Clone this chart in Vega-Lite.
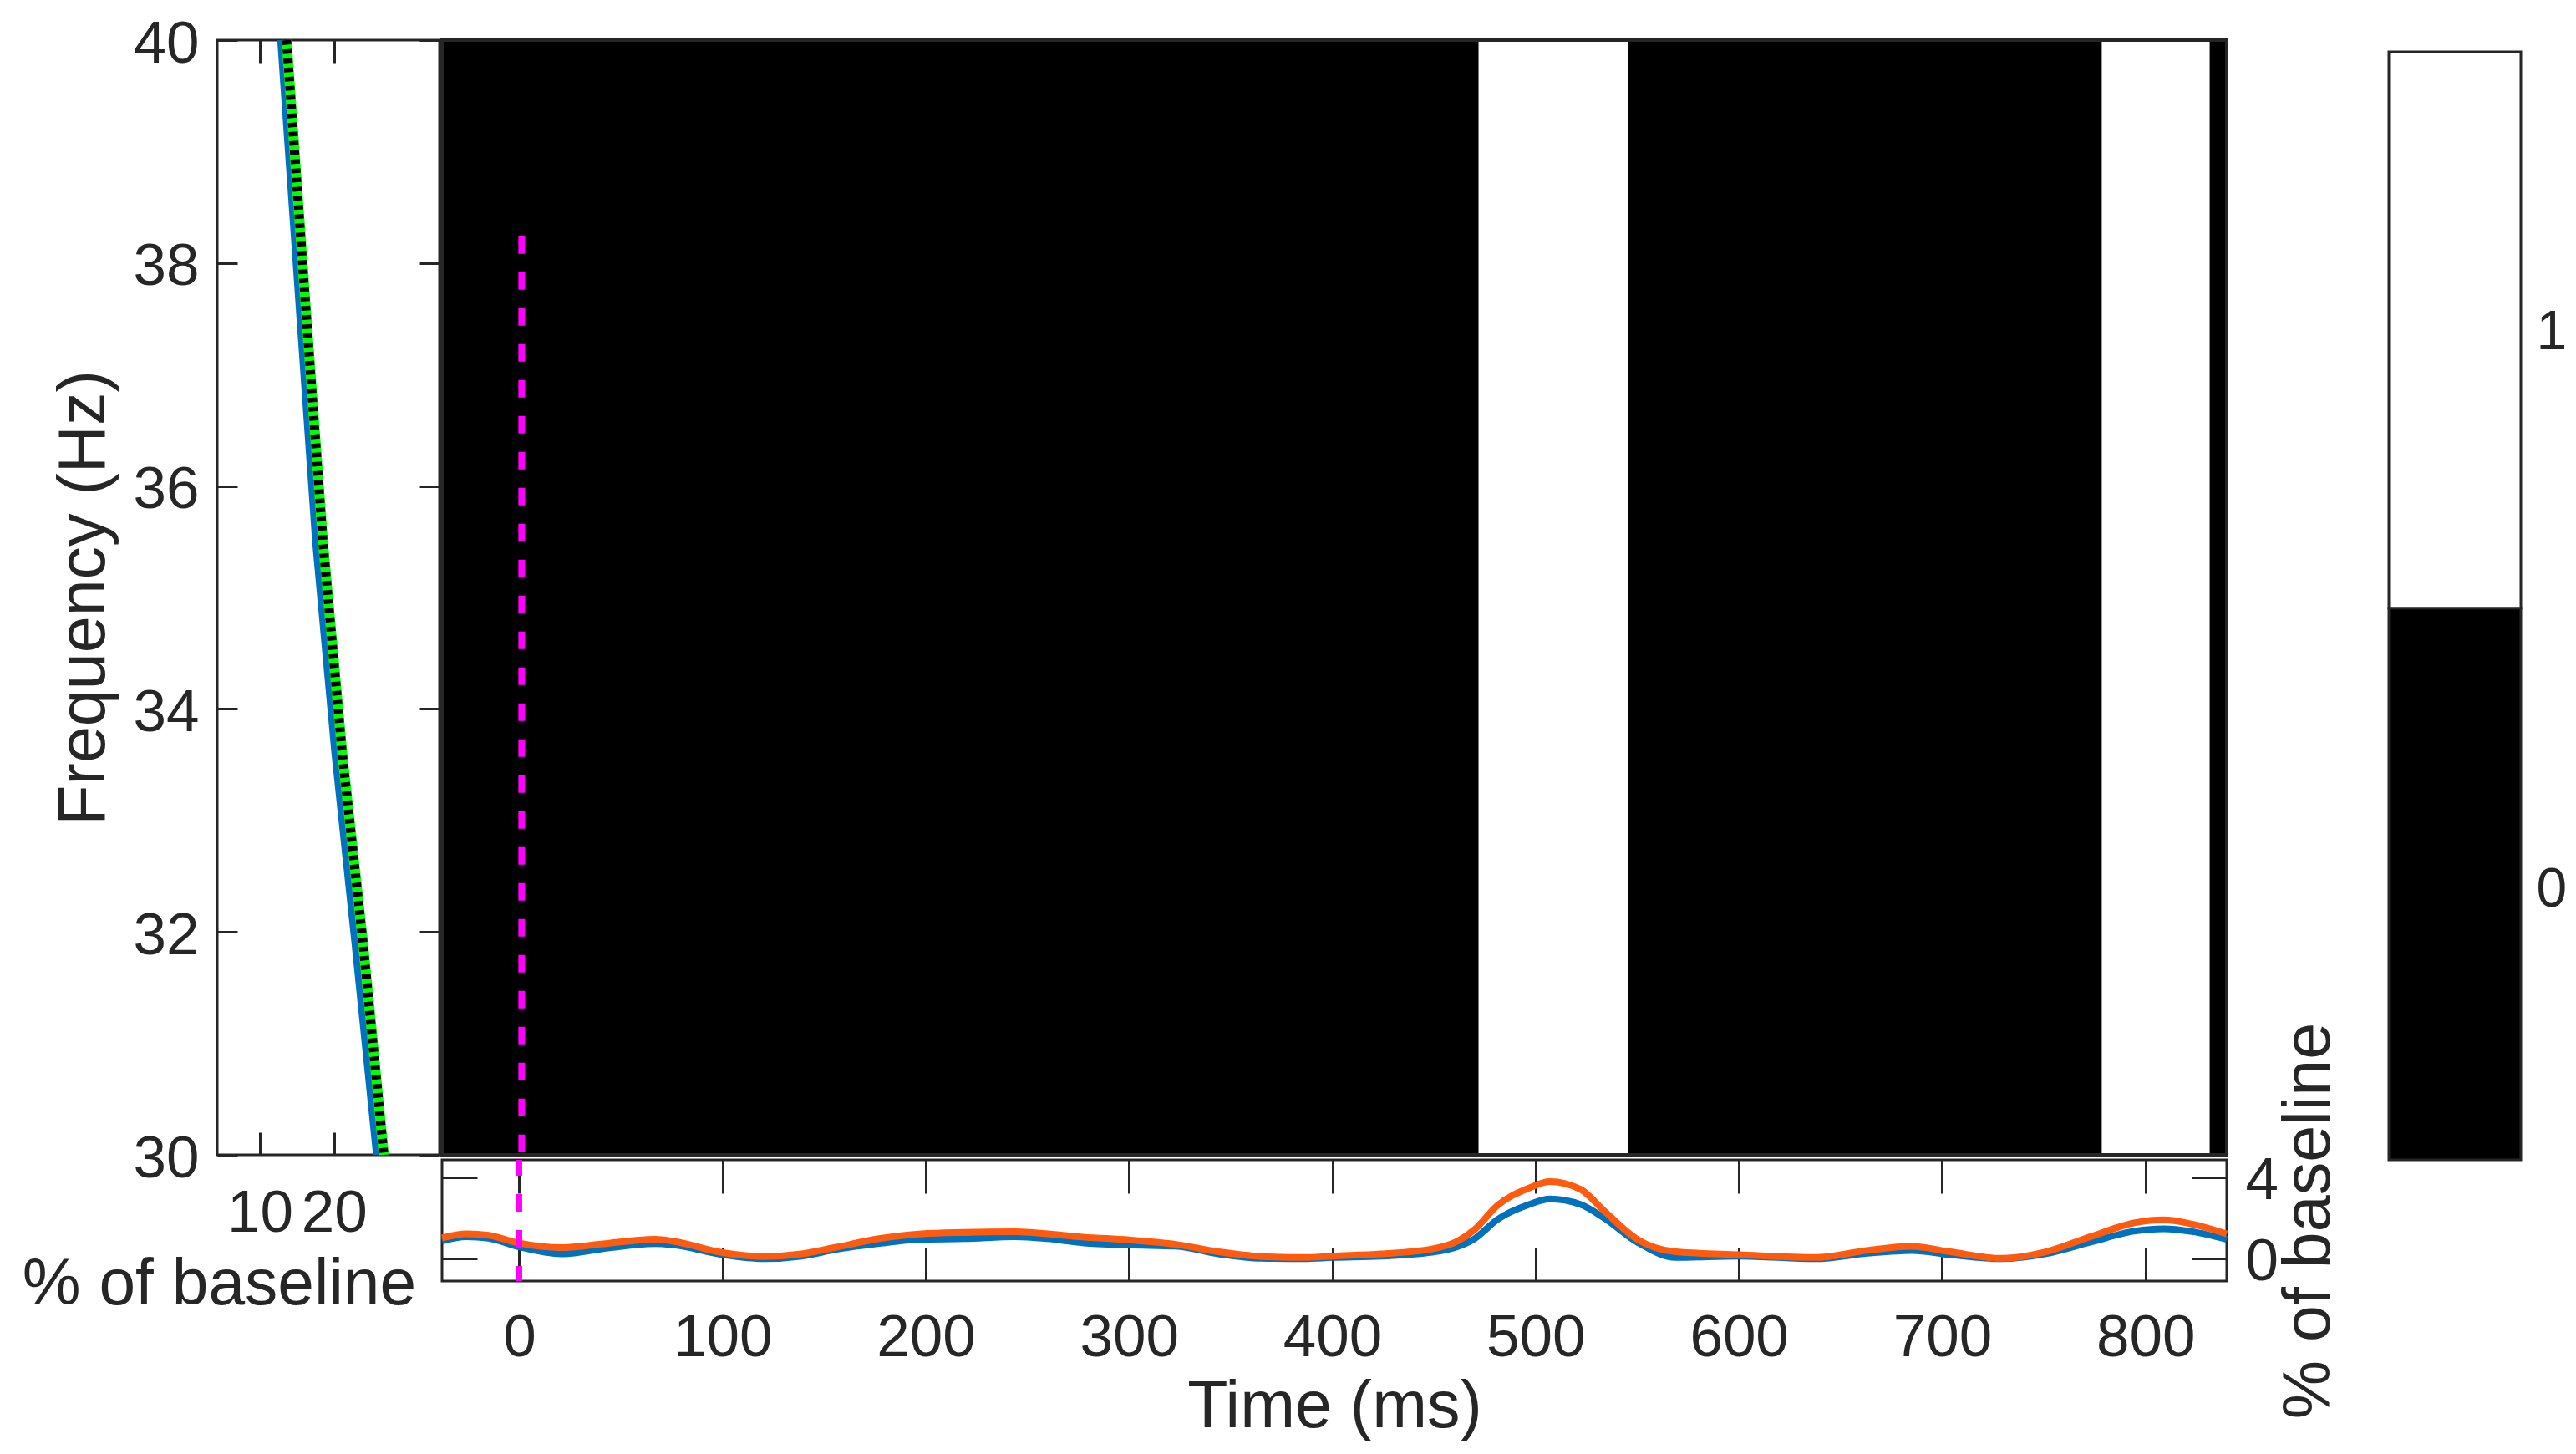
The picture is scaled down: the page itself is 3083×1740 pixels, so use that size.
{
  "$schema": "https://vega.github.io/schema/vega-lite/v6.json",
  "autosize": {"type": "none"},
  "padding": {"left": 260, "top": 48, "right": 2823, "bottom": 1692},
  "background": "white",
  "config": {
    "font": "Liberation Sans",
    "axis": {
      "grid": false, "domain": false,
      "labelFont": "Liberation Sans", "labelFontSize": 71, "labelColor": "#262626",
      "labelOverlap": false, "labelBound": false, "labelFlush": false,
      "titleFont": "Liberation Sans", "titleFontSize": 79, "titleFontWeight": "normal", "titleColor": "#262626",
      "tickColor": "#262626", "tickWidth": 3
    }
  },
  "datasets": {
    "tuning": [
      {"series": "blue", "freq": 40, "pct": 12.8},
      {"series": "blue", "freq": 37.5, "pct": 15.4},
      {"series": "blue", "freq": 35.5, "pct": 17.5},
      {"series": "blue", "freq": 33.6, "pct": 20.1},
      {"series": "blue", "freq": 31.9, "pct": 22.8},
      {"series": "blue", "freq": 30, "pct": 25.7},
      {"series": "green", "freq": 40, "pct": 13.6},
      {"series": "green", "freq": 37.4, "pct": 16.4},
      {"series": "green", "freq": 35.5, "pct": 18.5},
      {"series": "green", "freq": 33.6, "pct": 21.1},
      {"series": "green", "freq": 31.9, "pct": 23.9},
      {"series": "green", "freq": 30, "pct": 26.7}
    ],
    "trace": [
      {"time": -38, "orange": 1.02, "blue": 0.88},
      {"time": -26, "orange": 1.22, "blue": 1.08},
      {"time": -15, "orange": 1.15, "blue": 1.0},
      {"time": -1, "orange": 0.78, "blue": 0.6},
      {"time": 21, "orange": 0.54, "blue": 0.23},
      {"time": 45, "orange": 0.77, "blue": 0.54},
      {"time": 67, "orange": 0.95, "blue": 0.74},
      {"time": 76, "orange": 0.85, "blue": 0.67},
      {"time": 100, "orange": 0.29, "blue": 0.19},
      {"time": 120, "orange": 0.1, "blue": -0.01},
      {"time": 139, "orange": 0.23, "blue": 0.12},
      {"time": 156, "orange": 0.56, "blue": 0.45},
      {"time": 177, "orange": 0.98, "blue": 0.74},
      {"time": 198, "orange": 1.22, "blue": 0.95},
      {"time": 219, "orange": 1.29, "blue": 0.98},
      {"time": 244, "orange": 1.32, "blue": 1.08},
      {"time": 260, "orange": 1.22, "blue": 0.98},
      {"time": 277, "orange": 1.06, "blue": 0.78},
      {"time": 300, "orange": 0.92, "blue": 0.67},
      {"time": 323, "orange": 0.7, "blue": 0.61},
      {"time": 344, "orange": 0.33, "blue": 0.23},
      {"time": 365, "orange": 0.1, "blue": 0.01},
      {"time": 386, "orange": 0.05, "blue": -0.01},
      {"time": 400, "orange": 0.12, "blue": 0.05},
      {"time": 424, "orange": 0.23, "blue": 0.12},
      {"time": 449, "orange": 0.47, "blue": 0.31},
      {"time": 462, "orange": 0.88, "blue": 0.6},
      {"time": 470, "orange": 1.43, "blue": 0.98},
      {"time": 481, "orange": 2.6, "blue": 1.91},
      {"time": 497, "orange": 3.49, "blue": 2.67},
      {"time": 507, "orange": 3.8, "blue": 2.94},
      {"time": 522, "orange": 3.42, "blue": 2.67},
      {"time": 534, "orange": 2.32, "blue": 1.98},
      {"time": 550, "orange": 0.95, "blue": 0.81},
      {"time": 569, "orange": 0.33, "blue": 0.05},
      {"time": 600, "orange": 0.19, "blue": 0.12},
      {"time": 638, "orange": 0.05, "blue": -0.01},
      {"time": 663, "orange": 0.4, "blue": 0.26},
      {"time": 685, "orange": 0.6, "blue": 0.4},
      {"time": 704, "orange": 0.33, "blue": 0.19},
      {"time": 729, "orange": 0.01, "blue": -0.01},
      {"time": 751, "orange": 0.33, "blue": 0.24},
      {"time": 773, "orange": 1.08, "blue": 0.81},
      {"time": 795, "orange": 1.77, "blue": 1.36},
      {"time": 809, "orange": 1.91, "blue": 1.47},
      {"time": 823, "orange": 1.7, "blue": 1.33},
      {"time": 840, "orange": 1.22, "blue": 0.95}
    ],
    "cells": [
      {"t0": -38, "t1": 472, "f0": 30, "f1": 40, "value": 0},
      {"t0": 472, "t1": 545.6, "f0": 30, "f1": 40, "value": 1},
      {"t0": 545.6, "t1": 778.6, "f0": 30, "f1": 40, "value": 0},
      {"t0": 778.6, "t1": 831.6, "f0": 30, "f1": 40, "value": 1},
      {"t0": 831.6, "t1": 840, "f0": 30, "f1": 40, "value": 0}
    ]
  },
  "columns": 4,
  "bounds": "flush",
  "spacing": {"row": -3, "column": 3},
  "concat": [
    {
      "width": 266,
      "height": 1334,
      "view": {"stroke": "#262626", "strokeWidth": 3},
      "data": {"name": "tuning"},
      "resolve": {"axis": {"x": "independent", "y": "independent"}},
      "layer": [
        {
          "transform": [{"filter": "datum.series === 'blue'"}],
          "mark": {"type": "line", "color": "#0072BD", "strokeWidth": 8},
          "encoding": {
            "x": {"field": "pct", "type": "quantitative", "scale": {"domain": [4.27, 34.2], "nice": false, "zero": false},
              "axis": {"orient": "bottom", "values": [10, 20], "tickSize": -27, "labelPadding": 62, "title": "% of baseline", "titleX": 2, "titleY": 154, "titleFontSize": 78.5, "titleBaseline": "middle"}},
            "y": {"field": "freq", "type": "quantitative", "scale": {"domain": [30, 40], "nice": false, "zero": false},
              "axis": {"orient": "left", "values": [30, 32, 34, 36, 38, 40], "tickSize": -24, "labelPadding": 46, "labelOffset": 5, "title": "Frequency (Hz)", "titlePadding": 18}}
          }
        },
        {
          "transform": [{"filter": "datum.series === 'green'"}],
          "mark": {"type": "line", "color": "#00FF00", "strokeWidth": 12},
          "encoding": {
            "x": {"field": "pct", "type": "quantitative", "scale": {"domain": [4.27, 34.2], "nice": false, "zero": false},
              "axis": {"orient": "top", "values": [10, 20], "tickSize": -27, "labels": false, "title": null}},
            "y": {"field": "freq", "type": "quantitative", "scale": {"domain": [30, 40], "nice": false, "zero": false},
              "axis": {"orient": "right", "values": [30, 32, 34, 36, 38, 40], "tickSize": -24, "labels": false, "title": null}}
          }
        },
        {
          "transform": [{"filter": "datum.series === 'green'"}],
          "mark": {"type": "line", "color": "black", "strokeWidth": 11, "strokeDash": [5.5, 5.5]},
          "encoding": {
            "x": {"field": "pct", "type": "quantitative", "scale": {"domain": [4.27, 34.2], "nice": false, "zero": false}, "axis": null},
            "y": {"field": "freq", "type": "quantitative", "scale": {"domain": [30, 40], "nice": false, "zero": false}, "axis": null}
          }
        }
      ]
    },
    {
      "width": 2136,
      "height": 1334,
      "view": {"stroke": null},
      "layer": [
        {
          "data": {"name": "cells"},
          "mark": {"type": "rect"},
          "encoding": {
            "x": {"field": "t0", "type": "quantitative", "scale": {"domain": [-38, 840], "nice": false, "zero": false}, "axis": null},
            "x2": {"field": "t1"},
            "y": {"field": "f0", "type": "quantitative", "scale": {"domain": [30, 40], "nice": false, "zero": false}, "axis": null},
            "y2": {"field": "f1"},
            "color": {"field": "value", "type": "nominal", "scale": {"domain": [0, 1], "range": ["black", "white"]}, "legend": null}
          }
        },
        {
          "data": {"values": [{"t0": -38, "t1": 840, "f0": 30, "f1": 40}]},
          "mark": {"type": "rect", "filled": false, "stroke": "#262626", "strokeWidth": 4},
          "encoding": {
            "x": {"field": "t0", "type": "quantitative", "scale": {"domain": [-38, 840], "nice": false, "zero": false}, "axis": null},
            "x2": {"field": "t1"},
            "y": {"field": "f0", "type": "quantitative", "scale": {"domain": [30, 40], "nice": false, "zero": false}, "axis": null},
            "y2": {"field": "f1"}
          }
        },
        {
          "data": {"values": [{"time": 1.2, "top": 38.24, "bottom": 30}]},
          "mark": {"type": "rule", "color": "#FF00FF", "strokeWidth": 8, "strokeDash": [21, 22]},
          "encoding": {
            "x": {"field": "time", "type": "quantitative", "scale": {"domain": [-38, 840], "nice": false, "zero": false}, "axis": null},
            "y": {"field": "top", "type": "quantitative", "scale": {"domain": [30, 40], "nice": false, "zero": false}, "axis": null},
            "y2": {"field": "bottom"}
          }
        }
      ]
    },
    {
      "width": 188,
      "height": 1334,
      "view": {"stroke": null},
      "data": {"values": []},
      "mark": "point",
      "encoding": {}
    },
    {
      "width": 158,
      "height": 1340,
      "view": {"stroke": null},
      "data": {"values": [
        {"value": 0, "lo": -0.49, "hi": 0.5},
        {"value": 1, "lo": 0.5, "hi": 1.498}
      ]},
      "mark": {"type": "rect", "stroke": "#262626", "strokeWidth": 3},
      "encoding": {
        "y": {"field": "lo", "type": "quantitative", "scale": {"domain": [-0.49, 1.519], "nice": false, "zero": false},
          "axis": {"orient": "right", "values": [0, 1], "tickSize": -13, "labelPadding": 31, "labelOffset": 3, "labelFontSize": 66, "title": null}},
        "y2": {"field": "hi"},
        "color": {"field": "value", "type": "nominal", "scale": {"domain": [0, 1], "range": ["black", "white"]}, "legend": null}
      }
    },
    {
      "width": 266,
      "height": 145,
      "view": {"stroke": null},
      "data": {"values": []},
      "mark": "point",
      "encoding": {}
    },
    {
      "width": 2136,
      "height": 145,
      "view": {"stroke": "#262626", "strokeWidth": 3},
      "resolve": {"axis": {"x": "independent", "y": "independent"}},
      "layer": [
        {
          "data": {"name": "trace"},
          "mark": {"type": "line", "color": "#0072BD", "strokeWidth": 8, "interpolate": "monotone"},
          "encoding": {
            "x": {"field": "time", "type": "quantitative", "scale": {"domain": [-38, 840], "nice": false, "zero": false},
              "axis": {"orient": "bottom", "values": [0, 100, 200, 300, 400, 500, 600, 700, 800], "tickSize": -40, "labelPadding": 73, "title": "Time (ms)", "titlePadding": 9}},
            "y": {"field": "blue", "type": "quantitative", "scale": {"domain": [-1.11, 4.87], "nice": false, "zero": false},
              "axis": {"orient": "left", "values": [0, 4], "tickSize": -42, "labels": false, "title": null}}
          }
        },
        {
          "data": {"name": "trace"},
          "mark": {"type": "line", "color": "#FF5A0D", "strokeWidth": 8, "interpolate": "monotone"},
          "encoding": {
            "x": {"field": "time", "type": "quantitative", "scale": {"domain": [-38, 840], "nice": false, "zero": false},
              "axis": {"orient": "top", "values": [0, 100, 200, 300, 400, 500, 600, 700, 800], "tickSize": -40, "labels": false, "title": null}},
            "y": {"field": "orange", "type": "quantitative", "scale": {"domain": [-1.11, 4.87], "nice": false, "zero": false},
              "axis": {"orient": "right", "values": [0, 4], "tickSize": -42, "labelPadding": 64, "labelOffset": 4, "title": "% of baseline", "titleAngle": 270, "titlePadding": 78}}
          }
        },
        {
          "data": {"values": [{"time": -0.2, "top": 4.87, "bottom": -1.11}]},
          "mark": {"type": "rule", "color": "#FF00FF", "strokeWidth": 8, "strokeDash": [21, 22], "strokeDashOffset": 2},
          "encoding": {
            "x": {"field": "time", "type": "quantitative", "scale": {"domain": [-38, 840], "nice": false, "zero": false}, "axis": null},
            "y": {"field": "top", "type": "quantitative", "scale": {"domain": [-1.11, 4.87], "nice": false, "zero": false}, "axis": null},
            "y2": {"field": "bottom"}
          }
        }
      ]
    }
  ]
}
